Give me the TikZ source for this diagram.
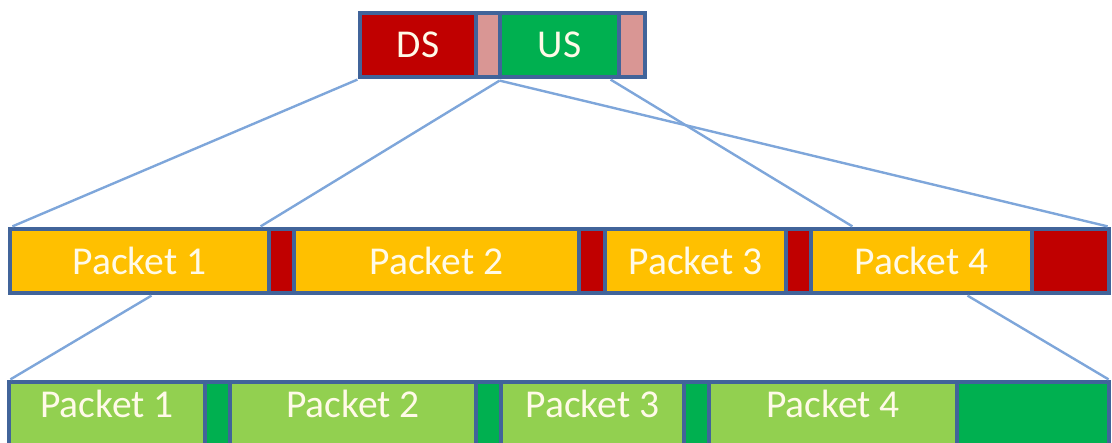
\documentclass[tikz,border=0pt]{standalone}
\usepackage{fontspec}
\setmainfont{Carlito}
\usetikzlibrary{calc}
\definecolor{bord}{HTML}{41649A}
\definecolor{link}{HTML}{7EA6DA}
\definecolor{dsred}{HTML}{C00000}
\definecolor{pink}{HTML}{D99694}
\definecolor{usgreen}{HTML}{00B050}
\definecolor{orange}{HTML}{FFC000}
\definecolor{lgreen}{HTML}{92D050}
\definecolor{txt}{HTML}{FFFAE8}
\tikzset{
  cell/.style={draw=bord, line width=3.2pt, inner sep=0pt, anchor=center,
    text=txt, font=\fontsize{39.5}{41}\selectfont},
  conn/.style={draw=link, line width=2.4pt},
  lbl/.style={inner sep=0pt, text=txt, font=\fontsize{39.5}{41}\selectfont}
}
\begin{document}
\begin{tikzpicture}[x=1pt,y=-1pt]
\useasboundingbox (0,0) rectangle (1112,443);
\clip (0,0) rectangle (1112,443);
% top bar
\node[cell, fill=dsred, minimum width=116pt, minimum height=64pt] (ds) at (418,45) {DS};
\node[cell, fill=pink, minimum width=24pt, minimum height=64pt] (pk1) at (488,45) {};
\node[cell, fill=usgreen, minimum width=119pt, minimum height=64pt] (us) at (559.5,45) {US};
\node[cell, fill=pink, minimum width=26pt, minimum height=64pt] (pk2) at (632,45) {};
% middle bar
\node[cell, fill=orange, minimum width=259pt, minimum height=64pt] (p1) at (139.5,261) {Packet 1};
\node[cell, fill=dsred, minimum width=25pt, minimum height=64pt] (r1) at (281.5,261) {};
\node[cell, fill=orange, minimum width=285pt, minimum height=64pt] (p2) at (436.5,261) {Packet 2};
\node[cell, fill=dsred, minimum width=26pt, minimum height=64pt] (r2) at (592,261) {};
\node[cell, fill=orange, minimum width=181pt, minimum height=64pt] (p3) at (695.5,261) {Packet 3};
\node[cell, fill=dsred, minimum width=25pt, minimum height=64pt] (r3) at (798.5,261) {};
\node[cell, fill=orange, minimum width=221pt, minimum height=64pt] (p4) at (921.5,261) {Packet 4};
\node[cell, fill=dsred, minimum width=77pt, minimum height=64pt] (r4) at (1070.5,261) {};
% bottom bar
\node[cell, fill=lgreen, minimum width=196pt, minimum height=70pt] (g1) at (107,417) {};
\node[cell, fill=usgreen, minimum width=25pt, minimum height=70pt] (d1) at (217.5,417) {};
\node[cell, fill=lgreen, minimum width=246pt, minimum height=70pt] (g2) at (353,417) {};
\node[cell, fill=usgreen, minimum width=25pt, minimum height=70pt] (d2) at (488.5,417) {};
\node[cell, fill=lgreen, minimum width=183pt, minimum height=70pt] (g3) at (592.5,417) {};
\node[cell, fill=usgreen, minimum width=25pt, minimum height=70pt] (d3) at (696.5,417) {};
\node[cell, fill=lgreen, minimum width=248pt, minimum height=70pt] (g4) at (833,417) {};
\node[cell, fill=usgreen, minimum width=152pt, minimum height=70pt] (d4) at (1033,417) {};
\node[lbl] (g1t) at ($(g1.north)+(0,24)$) {Packet 1};
\node[lbl] (g2t) at ($(g2.north)+(0,24)$) {Packet 2};
\node[lbl] (g3t) at ($(g3.north)+(0,24)$) {Packet 3};
\node[lbl] (g4t) at ($(g4.north)+(0,24)$) {Packet 4};
% connectors
\draw[conn] ($(ds.south west)+(-1,1)$) -- ($(p1.north west)+(4,-1)$);
\draw[conn] ($(pk1.south east)+(-2,2)$) -- ($(p1.north east)+(-10,-1)$);
\draw[conn] ($(pk1.south east)+(-2,2)$) -- ($(r4.north east)+(-3,-1)$);
\draw[conn] ($(us.south east)+(-10,1)$) -- ($(p4.north west)+(43,-1)$);
\draw[conn] ($(p1.south)+(12,1)$) -- ($(g1.north west)+(3,-1)$);
\draw[conn] ($(p4.south)+(46,1)$) -- ($(d4.north east)+(-2,-1)$);
\end{tikzpicture}
\end{document}
